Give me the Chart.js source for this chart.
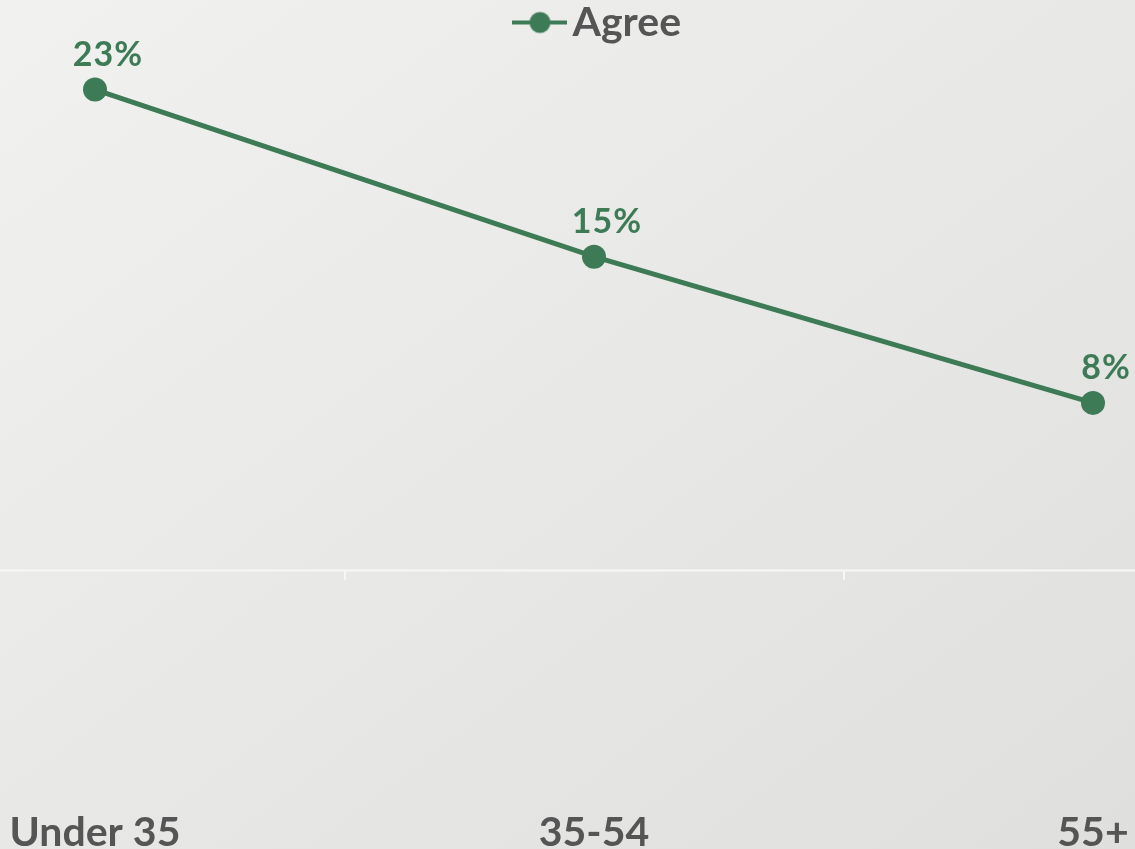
<!DOCTYPE html>
<html>
<head>
    <meta charset="UTF-8">
    <title>Agree by age</title>
    <script src="https://cdn.jsdelivr.net/npm/chart.js@4.4.0/dist/chart.umd.min.js"></script>
    <style>
        * { margin: 0; padding: 0; box-sizing: border-box; }
        body {
            width: 1135px;
            height: 849px;
            overflow: hidden;
            background: linear-gradient(to bottom right, #f1f1f0, #dfdfde);
            font-family: Lato, sans-serif;
        }
        canvas { display: block; }
    </style>
</head>
<body>
    <canvas id="chart" width="1135" height="849"></canvas>
    <script>
        const ageGroups = ['Under 35', '35-54', '55+'];
        const agreeValues = [23, 15, 8];
        const seriesName = 'Agree';

        const green = '#3d7a56';
        const grey = '#555555';

        // legend marker: line with a dot in the middle
        const marker = document.createElement('canvas');
        marker.width = 55;
        marker.height = 24;
        const mctx = marker.getContext('2d');
        mctx.strokeStyle = green;
        mctx.lineWidth = 4;
        mctx.beginPath();
        mctx.moveTo(0, 12);
        mctx.lineTo(55, 12);
        mctx.stroke();
        mctx.fillStyle = green;
        mctx.beginPath();
        mctx.arc(27.5, 12, 10.5, 0, Math.PI * 2);
        mctx.fill();

        const zeroLine = {
            id: 'zeroLine',
            beforeDatasetsDraw(chart) {
                const y = Math.round(chart.scales.y.getPixelForValue(0)) + 0.5;
                const ctx = chart.ctx;
                ctx.save();
                ctx.strokeStyle = '#f7f7f7';
                ctx.lineWidth = 2;
                ctx.beginPath();
                ctx.moveTo(0, y);
                ctx.lineTo(chart.width, y);
                ctx.stroke();
                ctx.restore();
            }
        };

        // legend sits a little right of centre in the original
        const legendShift = {
            id: 'legendShift',
            afterLayout(chart) {
                chart.legend.left += 74;
            }
        };

        const valueLabels = {
            id: 'valueLabels',
            afterDatasetsDraw(chart) {
                const ctx = chart.ctx;
                const meta = chart.getDatasetMeta(0);
                ctx.save();
                ctx.font = 'bold 34px Lato';
                ctx.letterSpacing = '1px';
                ctx.fillStyle = green;
                ctx.textAlign = 'center';
                ctx.textBaseline = 'middle';
                meta.data.forEach((pt, i) => {
                    ctx.fillText(agreeValues[i] + '%', pt.x + 13, pt.y - 35);
                });
                ctx.restore();
            }
        };

        new Chart(document.getElementById('chart'), {
            type: 'line',
            data: {
                labels: ageGroups,
                datasets: [{
                    label: seriesName,
                    data: agreeValues,
                    borderColor: green,
                    backgroundColor: green,
                    borderWidth: 5,
                    pointStyle: 'circle',
                    pointRadius: 12,
                    pointHoverRadius: 12,
                    pointBorderWidth: 0,
                    tension: 0
                }]
            },
            options: {
                responsive: false,
                animation: false,
                layout: { padding: 0 },
                plugins: {
                    legend: {
                        display: true,
                        labels: {
                            usePointStyle: true,
                            pointStyleWidth: 24,
                            padding: 2,
                            color: grey,
                            font: { family: 'Lato', size: 41, weight: 'bold' },
                            generateLabels(chart) {
                                return [{
                                    text: seriesName,
                                    pointStyle: marker,
                                    fillStyle: green,
                                    strokeStyle: green,
                                    lineWidth: 0,
                                    fontColor: grey,
                                    datasetIndex: 0
                                }];
                            }
                        }
                    },
                    tooltip: { enabled: false }
                },
                scales: {
                    x: {
                        offset: false,
                        border: { display: false },
                        grid: {
                            offset: true,
                            drawOnChartArea: false,
                            color: '#f7f7f7',
                            lineWidth: 2,
                            tickLength: 10
                        },
                        ticks: {
                            padding: 228,
                            color: grey,
                            maxRotation: 0,
                            font: { family: 'Lato', size: 41, weight: 'bold' }
                        },
                        afterFit(scale) {
                            scale.paddingLeft = 95;
                            scale.paddingRight = 42;
                            scale.height = 279;
                        }
                    },
                    y: {
                        display: false,
                        min: 0,
                        max: 24.75
                    }
                }
            },
            plugins: [zeroLine, legendShift, valueLabels]
        });
    </script>
</body>
</html>
